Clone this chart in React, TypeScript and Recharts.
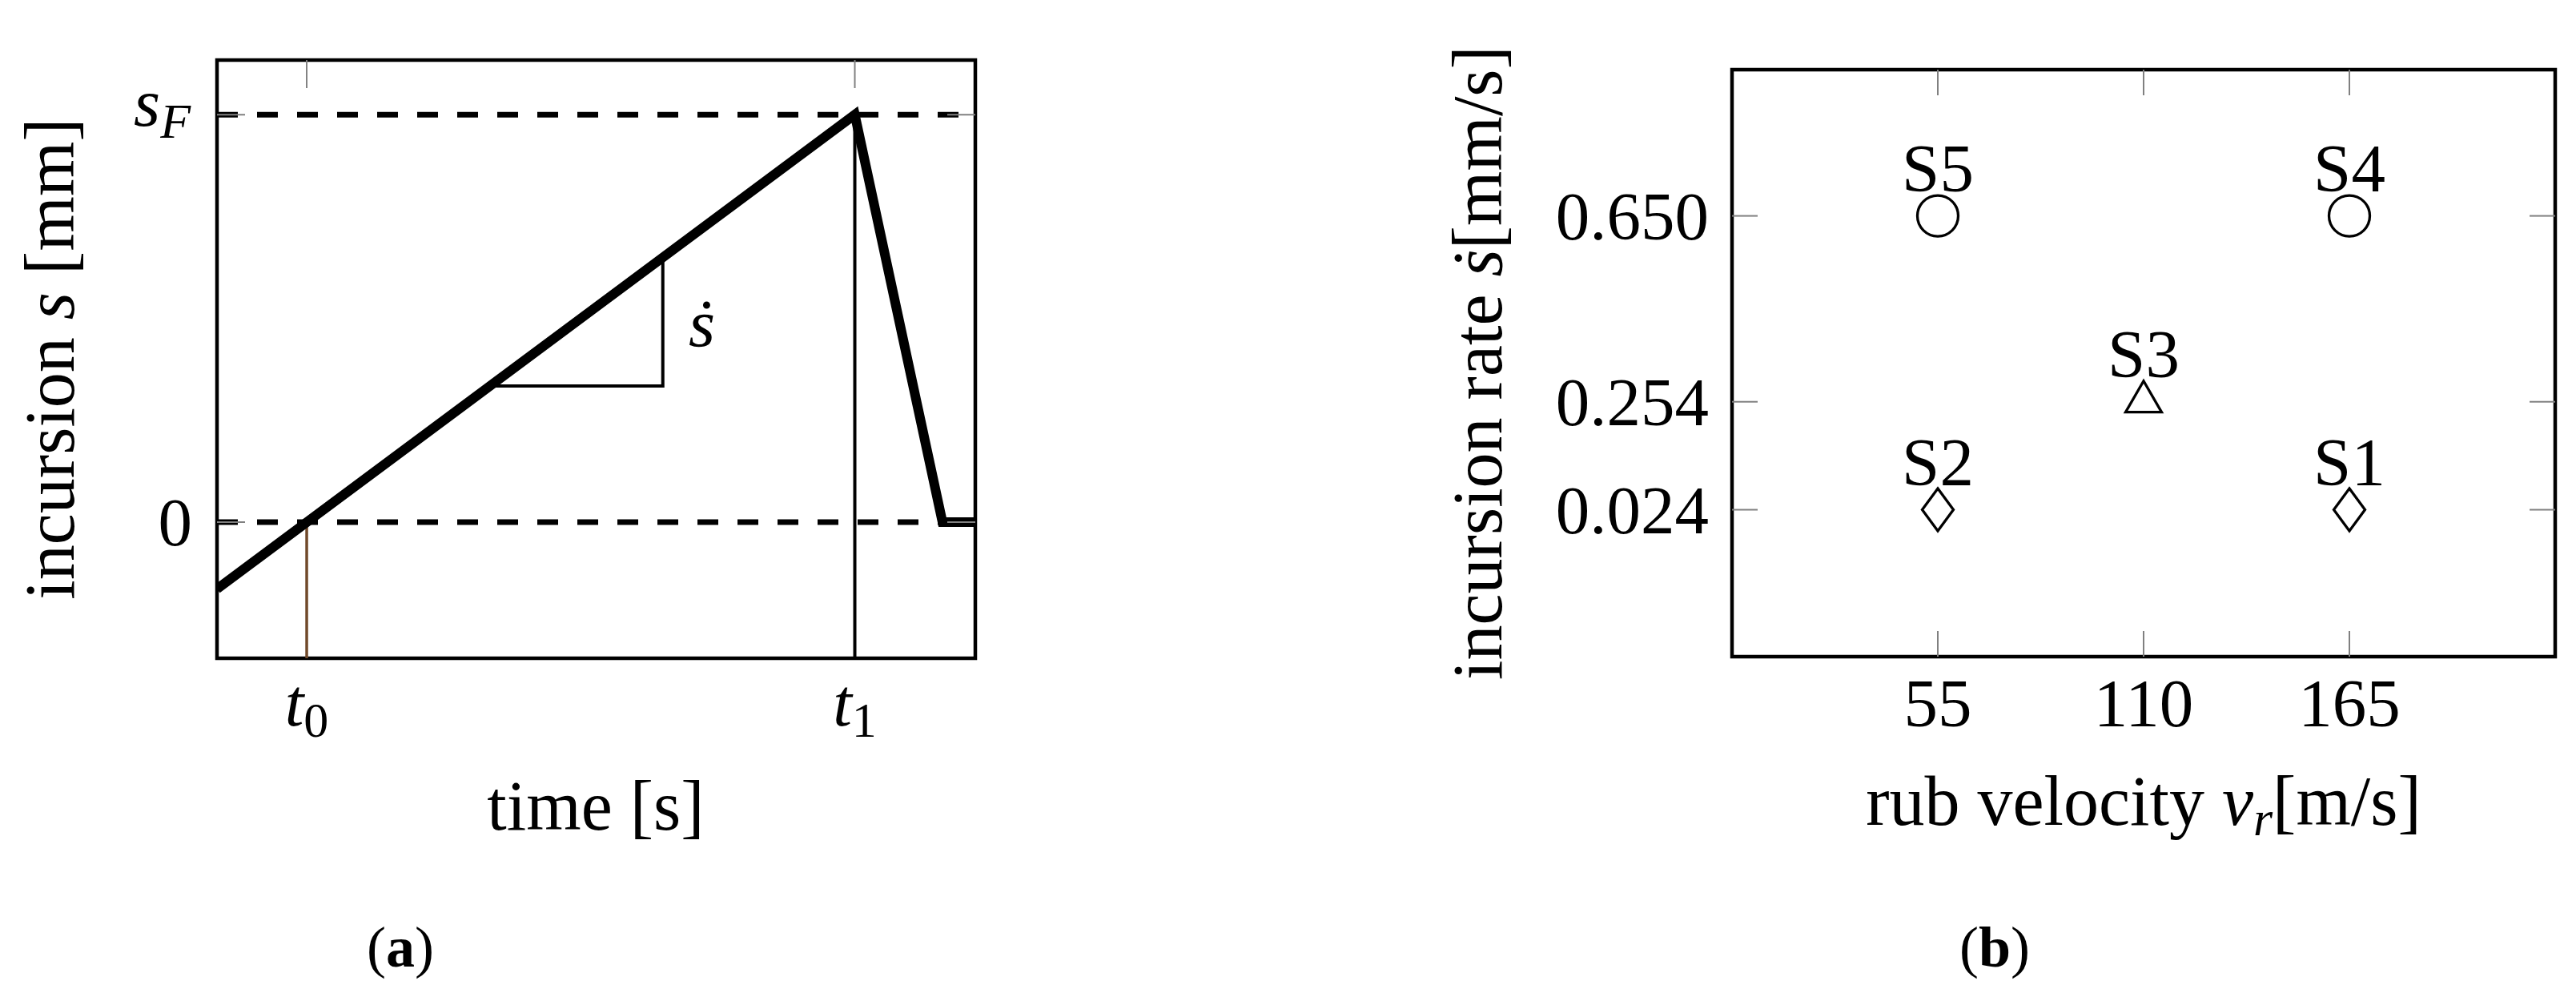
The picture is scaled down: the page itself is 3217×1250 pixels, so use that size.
import React from "react";
import {
  ComposedChart,
  ScatterChart,
  Line,
  Scatter,
  XAxis,
  YAxis,
  ReferenceLine,
  ReferenceArea,
} from "recharts";

// ---------- panel (a): incursion profile over time ----------
const timeTicks = [1.183, 8.411]; // t0, t1
const timeTickSubscripts = ["0", "1"];
const incursionTicks = [0, 1]; // 0, s_F
const incursionTickSymbols = ["0", "s"];
const incursionTickSubscripts = ["", "F"];

const profileTime = [0, 8.411, 9.567, 10];
const profileIncursion = [-0.164, 1, 0, 0];

const slopeTime = [3.597, 5.879, 5.879];
const slopeIncursion = [0.334, 0.334, 0.65];
const slopeLabelTime = [6.22];
const slopeLabelIncursion = [0.431];

const t0LineIncursion = [0, -0.334];
const t1LineIncursion = [1, -0.334];

const TIME_DOMAIN = [0, 10];
const INCURSION_DOMAIN = [-0.334, 1.134];

// ---------- panel (b): test matrix ----------
const specimenNames = ["S1", "S2", "S3", "S4", "S5"];
const rubVelocity = [165, 55, 110, 165, 55];
const incursionRate = [0.024, 0.024, 0.254, 0.65, 0.65];
const specimenMarkers = ["diamond", "diamond", "triangle", "circle", "circle"];
const velocityTicks = [55, 110, 165];
const rateTicks = [0.024, 0.254, 0.65];
const rateTickLabels = ["0.024", "0.254", "0.650"];

const VELOCITY_DOMAIN = [0, 220];
const RATE_DOMAIN = [-0.289, 0.9615];

// ---------- layout / style ----------
const FONT = '"Liberation Serif", "Times New Roman", serif';
const TICK_FS = 85;
const TITLE_FS = 88;
const SUB_FS = 62;
const GRAY = "#808080";
const AXIS_W = 100;

const A_W = 1300;
const A_H = 1250;
const A_BOX = { left: 271, right: 1218, top: 75, bottom: 822 };
const A_TICK = 35;

const B_PAGE_LEFT = 1750;
const B_W = 1467;
const B_H = 1250;
const B_BOX = { left: 413, right: 1441, top: 87, bottom: 820 };
const B_TICK = 32;

const profileData = profileTime.map((t, i) => ({ t, s: profileIncursion[i] }));
const slopeData = slopeTime.map((t, i) => ({ t, s: slopeIncursion[i] }));
const slopeLabelData = slopeLabelTime.map((t, i) => ({ t, s: slopeLabelIncursion[i] }));
const t0LineData = t0LineIncursion.map((s) => ({ t: timeTicks[0], s }));
const t1LineData = t1LineIncursion.map((s) => ({ t: timeTicks[1], s }));

const specimenData = specimenNames.map((name, i) => ({
  name,
  v: rubVelocity[i],
  r: incursionRate[i],
  marker: specimenMarkers[i],
}));

const txt = { fontFamily: FONT, fill: "#000" };

function TimeTick(props: any) {
  const { x, payload } = props;
  const i = timeTicks.indexOf(payload.value);
  return (
    <g>
      <line x1={x} x2={x} y1={A_BOX.top} y2={A_BOX.top + A_TICK} stroke={GRAY} strokeWidth={2} />
      <text x={x} y={906} textAnchor="middle" fontSize={TICK_FS} {...txt}>
        <tspan fontStyle="italic">t</tspan>
        <tspan fontSize={SUB_FS} dy={14}>
          {timeTickSubscripts[i]}
        </tspan>
      </text>
    </g>
  );
}

function IncursionTick(props: any) {
  const { y, payload } = props;
  const i = incursionTicks.indexOf(payload.value);
  const sub = incursionTickSubscripts[i];
  return (
    <g>
      <line x1={A_BOX.left} x2={A_BOX.left + A_TICK} y1={y} y2={y} stroke={GRAY} strokeWidth={2} />
      <line x1={A_BOX.right - A_TICK} x2={A_BOX.right} y1={y} y2={y} stroke={GRAY} strokeWidth={2} />
      {sub ? (
        <text x={A_BOX.left - 33} y={y + 14} textAnchor="end" fontSize={TICK_FS} {...txt}>
          <tspan fontStyle="italic">{incursionTickSymbols[i]}</tspan>
          <tspan fontStyle="italic" fontSize={SUB_FS} dy={15}>
            {sub}
          </tspan>
        </text>
      ) : (
        <text x={A_BOX.left - 31} y={y + 29} textAnchor="end" fontSize={TICK_FS} {...txt}>
          {incursionTickSymbols[i]}
        </text>
      )}
    </g>
  );
}

function VelocityTick(props: any) {
  const { x, payload } = props;
  return (
    <g>
      <line x1={x} x2={x} y1={B_BOX.top} y2={B_BOX.top + B_TICK} stroke={GRAY} strokeWidth={2} />
      <line x1={x} x2={x} y1={B_BOX.bottom - B_TICK} y2={B_BOX.bottom} stroke={GRAY} strokeWidth={2} />
      <text x={x} y={907} textAnchor="middle" fontSize={TICK_FS} {...txt}>
        {payload.value}
      </text>
    </g>
  );
}

function RateTick(props: any) {
  const { y, payload } = props;
  const i = rateTicks.indexOf(payload.value);
  return (
    <g>
      <line x1={B_BOX.left} x2={B_BOX.left + B_TICK} y1={y} y2={y} stroke={GRAY} strokeWidth={2} />
      <line x1={B_BOX.right - B_TICK} x2={B_BOX.right} y1={y} y2={y} stroke={GRAY} strokeWidth={2} />
      <text x={B_BOX.left - 29} y={y + 29} textAnchor="end" fontSize={TICK_FS} {...txt}>
        {rateTickLabels[i]}
      </text>
    </g>
  );
}

// marker + name label for each specimen
function SpecimenShape(props: any) {
  const { cx, cy, payload } = props;
  let mark;
  if (payload.marker === "circle") {
    mark = <circle cx={cx} cy={cy} r={25.5} fill="none" stroke="#000" strokeWidth={3.3} />;
  } else if (payload.marker === "diamond") {
    mark = (
      <polygon
        points={`${cx},${cy - 26.5} ${cx + 19.5},${cy} ${cx},${cy + 26.5} ${cx - 19.5},${cy}`}
        fill="none"
        stroke="#000"
        strokeWidth={3.3}
        strokeLinejoin="miter"
      />
    );
  } else {
    mark = (
      <polygon
        points={`${cx},${cy - 26} ${cx + 22.5},${cy + 13} ${cx - 22.5},${cy + 13}`}
        fill="none"
        stroke="#000"
        strokeWidth={3.3}
        strokeLinejoin="miter"
      />
    );
  }
  return (
    <g>
      {mark}
      <text x={cx} y={cy - 31} textAnchor="middle" fontSize={TICK_FS} {...txt}>
        {payload.name}
      </text>
    </g>
  );
}

function SlopeLabel(props: any) {
  const { cx, cy } = props;
  return (
    <text x={cx} y={cy} textAnchor="start" fontSize={TICK_FS} fontStyle="italic" {...txt}>
      ṡ
    </text>
  );
}

const timeTitle = () => (
  <g>
    <text x={744} y={1036} textAnchor="middle" fontSize={TITLE_FS} {...txt}>
      time [s]
    </text>
    <text x={500} y={1207} textAnchor="middle" fontSize={72} {...txt}>
      (<tspan fontWeight="bold">a</tspan>)
    </text>
  </g>
);

const incursionTitle = () => (
  <text
    x={92}
    y={448}
    transform="rotate(-90, 92, 448)"
    textAnchor="middle"
    fontSize={TITLE_FS}
    {...txt}
  >
    incursion <tspan fontStyle="italic">s</tspan> [mm]
  </text>
);

const velocityTitle = () => (
  <g>
    <text x={927} y={1030} textAnchor="middle" fontSize={TITLE_FS} {...txt}>
      rub velocity <tspan fontStyle="italic">v</tspan>
      <tspan fontStyle="italic" fontSize={SUB_FS} dy={13}>
        r
      </tspan>
      <tspan dy={-13}>[m/s]</tspan>
    </text>
    <text x={741} y={1207} textAnchor="middle" fontSize={72} {...txt}>
      (<tspan fontWeight="bold">b</tspan>)
    </text>
  </g>
);

const rateTitle = () => (
  <text
    x={125}
    y={453}
    transform="rotate(-90, 125, 453)"
    textAnchor="middle"
    fontSize={TITLE_FS}
    {...txt}
  >
    incursion rate <tspan fontStyle="italic">ṡ</tspan>[mm/s]
  </text>
);

function IncursionProfile() {
  return (
    <ComposedChart
      width={A_W}
      height={A_H}
      margin={{
        top: A_BOX.top,
        right: A_W - A_BOX.right,
        bottom: A_H - A_BOX.bottom - AXIS_W,
        left: A_BOX.left - AXIS_W,
      }}
    >
      <XAxis
        dataKey="t"
        type="number"
        domain={TIME_DOMAIN}
        ticks={timeTicks}
        interval={0}
        allowDataOverflow
        tickLine={false}
        axisLine={false}
        height={AXIS_W}
        tick={(p: any) => <TimeTick {...p} />}
        label={timeTitle}
      />
      <YAxis
        dataKey="s"
        type="number"
        domain={INCURSION_DOMAIN}
        ticks={incursionTicks}
        interval={0}
        allowDataOverflow
        tickLine={false}
        axisLine={false}
        width={AXIS_W}
        tick={(p: any) => <IncursionTick {...p} />}
        label={incursionTitle}
      />
      <ReferenceLine y={incursionTicks[1]} stroke="#000" strokeWidth={7} strokeDasharray="26 24" />
      <ReferenceLine y={incursionTicks[0]} stroke="#000" strokeWidth={7} strokeDasharray="26 24" />
      <Line data={t0LineData} dataKey="s" stroke="#70492a" strokeWidth={3.5} dot={false} activeDot={false} isAnimationActive={false} />
      <Line data={t1LineData} dataKey="s" stroke="#000" strokeWidth={4} dot={false} activeDot={false} isAnimationActive={false} />
      <Line data={slopeData} dataKey="s" stroke="#000" strokeWidth={4} dot={false} activeDot={false} isAnimationActive={false} />
      <Line
        data={profileData}
        dataKey="s"
        stroke="#000"
        strokeWidth={12}
        strokeLinejoin="miter"
        dot={false}
        activeDot={false}
        isAnimationActive={false}
      />
      <Scatter data={slopeLabelData} dataKey="s" shape={(p: any) => <SlopeLabel {...p} />} isAnimationActive={false} />
      <ReferenceArea
        x1={TIME_DOMAIN[0]}
        x2={TIME_DOMAIN[1]}
        y1={INCURSION_DOMAIN[0]}
        y2={INCURSION_DOMAIN[1]}
        ifOverflow="visible"
        fill="none"
        stroke="#000"
        strokeWidth={4.5}
      />
    </ComposedChart>
  );
}

function TestMatrix() {
  return (
    <ScatterChart
      width={B_W}
      height={B_H}
      margin={{
        top: B_BOX.top,
        right: B_W - B_BOX.right,
        bottom: B_H - B_BOX.bottom - AXIS_W,
        left: B_BOX.left - AXIS_W,
      }}
    >
      <XAxis
        dataKey="v"
        type="number"
        domain={VELOCITY_DOMAIN}
        ticks={velocityTicks}
        interval={0}
        allowDataOverflow
        tickLine={false}
        axisLine={false}
        height={AXIS_W}
        tick={(p: any) => <VelocityTick {...p} />}
        label={velocityTitle}
      />
      <YAxis
        dataKey="r"
        type="number"
        domain={RATE_DOMAIN}
        ticks={rateTicks}
        interval={0}
        allowDataOverflow
        tickLine={false}
        axisLine={false}
        width={AXIS_W}
        tick={(p: any) => <RateTick {...p} />}
        label={rateTitle}
      />
      <Scatter data={specimenData} shape={(p: any) => <SpecimenShape {...p} />} isAnimationActive={false} />
      <ReferenceArea
        x1={VELOCITY_DOMAIN[0]}
        x2={VELOCITY_DOMAIN[1]}
        y1={RATE_DOMAIN[0]}
        y2={RATE_DOMAIN[1]}
        ifOverflow="visible"
        fill="none"
        stroke="#000"
        strokeWidth={4.5}
      />
    </ScatterChart>
  );
}

export default function App() {
  return (
    <div style={{ position: "absolute", left: 0, top: 0, width: 3217, height: 1250, background: "#fff" }}>
      <div style={{ position: "absolute", left: 0, top: 0 }}>
        <IncursionProfile />
      </div>
      <div style={{ position: "absolute", left: B_PAGE_LEFT, top: 0 }}>
        <TestMatrix />
      </div>
    </div>
  );
}
